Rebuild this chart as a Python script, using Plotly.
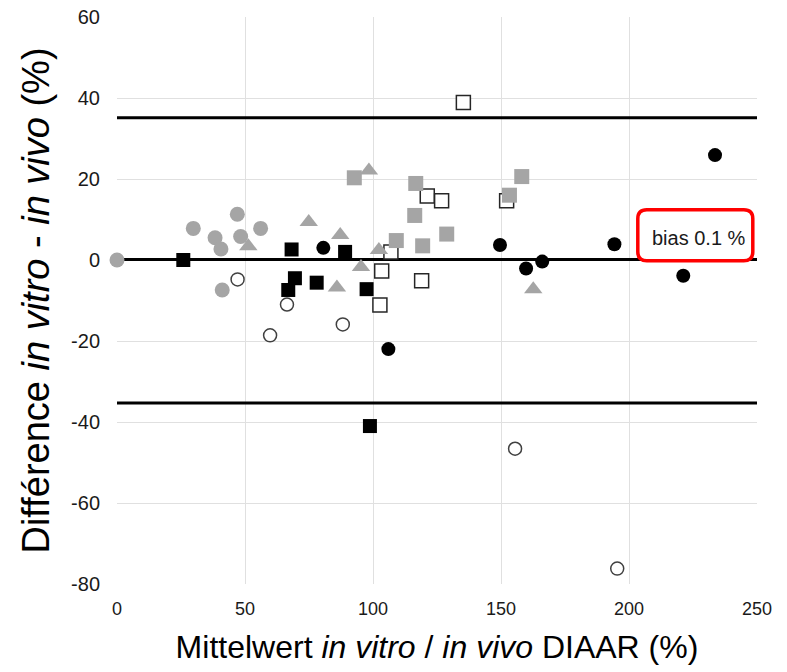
import plotly.graph_objects as go

# ---- data (mean in vitro/in vivo DIAAR %, difference in vitro - in vivo %) ----
grey_circle_x = [0, 29.8, 38.3, 40.6, 41.1, 47.0, 48.3, 56.1]
grey_circle_y = [0, 7.8, 5.5, 2.7, -7.4, 11.3, 5.8, 7.8]

grey_tri_x = [51.3, 74.9, 85.9, 87.2, 95.3, 98.4, 102.3, 162.6]
grey_tri_y = [3.4, 9.4, -6.8, 6.2, -1.7, 22.1, 2.5, -7.2]

grey_sq_x = [92.7, 109.1, 116.3, 116.7, 119.4, 128.8, 153.3, 158.1]
grey_sq_y = [20.3, 4.8, 11.0, 18.9, 3.5, 6.4, 16.0, 20.6]

black_sq_x = [25.9, 66.9, 68.2, 69.5, 78.0, 89.1, 97.5, 98.8]
black_sq_y = [0.0, -7.4, 2.6, -4.5, -5.6, 2.0, -7.2, -41.0]

black_circle_x = [80.6, 106.0, 149.6, 159.8, 166.1, 194.3, 221.2, 233.6]
black_circle_y = [3.0, -22.0, 3.7, -2.1, -0.4, 3.9, -3.9, 25.9]

open_sq_x = [102.7, 103.4, 107.0, 119.0, 121.2, 126.8, 135.3, 152.2]
open_sq_y = [-11.1, -2.7, 2.0, -5.1, 15.8, 14.6, 38.9, 14.6]

open_circle_x = [47.1, 59.8, 66.4, 88.2, 155.5, 195.4]
open_circle_y = [-4.8, -18.6, -11.0, -15.9, -46.6, -76.2]

bias = 0.1
loa_upper = 35.1
loa_lower = -35.3
x_span = [0, 250]

x_ticks = [0, 50, 100, 150, 200, 250]
y_ticks = [-80, -60, -40, -20, 0, 20, 40, 60]
y_tick_labels = ["-80", "-60", "-40", "-20", "0", "20", "40", "60"]

FONT = "Arial, Liberation Sans, sans-serif"
GREY = "#a5a5a5"

fig = go.Figure()

# limit / bias lines
for yv in (loa_upper, bias, loa_lower):
    fig.add_trace(go.Scatter(x=x_span, y=[yv, yv], mode="lines",
                             line=dict(color="black", width=3),
                             hoverinfo="skip", showlegend=False))

def pts(x, y, symbol, size, fill, line_color=None, line_width=0):
    fig.add_trace(go.Scatter(
        x=x, y=y, mode="markers", showlegend=False, cliponaxis=False,
        marker=dict(symbol=symbol, size=size, color=fill,
                    line=dict(color=line_color or fill, width=line_width))))

pts(open_circle_x, open_circle_y, "circle", 13, "white", "#404040", 1.5)
pts(open_sq_x, open_sq_y, "square", 14, "white", "#262626", 1.5)
pts(black_sq_x, black_sq_y, "square", 14, "black")
pts(black_circle_x, black_circle_y, "circle", 14, "black")
pts(grey_tri_x, grey_tri_y, "triangle-up", 16, GREY)
pts(grey_sq_x, grey_sq_y, "square", 15, GREY)
pts(grey_circle_x, grey_circle_y, "circle", 15, GREY)

# rounded red label box
w, h, r = 115, 51, 9
hw, hh = w / 2, h / 2
path = (f"M {-hw + r} {-hh} L {hw - r} {-hh} Q {hw} {-hh} {hw} {-hh + r} "
        f"L {hw} {hh - r} Q {hw} {hh} {hw - r} {hh} L {-hw + r} {hh} "
        f"Q {-hw} {hh} {-hw} {hh - r} L {-hw} {-hh + r} Q {-hw} {-hh} {-hw + r} {-hh} Z")
fig.add_shape(type="path", path=path, xsizemode="pixel", ysizemode="pixel",
              xanchor=225.9, yanchor=6.1, xref="x", yref="y",
              line=dict(color="#ff0000", width=3.5), fillcolor="white", layer="above")
fig.add_annotation(x=227.3, y=5.4, xref="x", yref="y", text="bias 0.1 %",
                   showarrow=False, font=dict(family=FONT, size=20, color="#1a1a1a"))

fig.update_layout(
    width=787, height=672,
    margin=dict(l=117, r=30, t=17, b=88),
    paper_bgcolor="white", plot_bgcolor="white",
    font=dict(family=FONT, color="black"),
    xaxis=dict(range=[0, 250], tickvals=x_ticks, showgrid=True, gridcolor="#e0e0e0",
               gridwidth=1, zeroline=False, showline=False, automargin=False,
               tickfont=dict(size=18, color="#1a1a1a"), ticklabelstandoff=12,
               title=dict(text="Mittelwert <i>in vitro</i> / <i>in vivo</i> DIAAR (%)",
                          font=dict(size=32, color="black"), standoff=17)),
    yaxis=dict(range=[-80, 60], tickvals=y_ticks, ticktext=y_tick_labels,
               showgrid=True, gridcolor="#e0e0e0",
               gridwidth=1, zeroline=False, showline=False, automargin=False,
               tickfont=dict(size=20, color="#1a1a1a"), ticklabelstandoff=16,
               title=dict(text="Différence <i>in vitro</i> - <i>in vivo</i> (%)",
                          font=dict(size=38, color="black"), standoff=9)),
)

fig.write_html("out.html")
